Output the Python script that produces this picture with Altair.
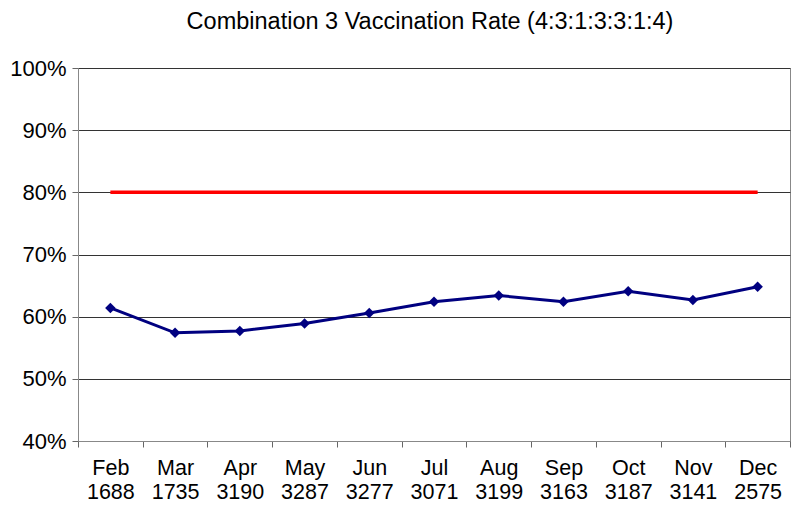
import altair as alt
import pandas as pd

months = ["Feb", "Mar", "Apr", "May", "Jun", "Jul", "Aug", "Sep", "Oct", "Nov", "Dec"]
counts = ["1688", "1735", "3190", "3287", "3277", "3071", "3199", "3163", "3187", "3141", "2575"]
rates = [61.4, 57.4, 57.7, 58.9, 60.6, 62.4, 63.4, 62.4, 64.1, 62.7, 64.8]
target = [80] * len(months)

cats = [f"{m}|{c}" for m, c in zip(months, counts)]
df = pd.DataFrame({"cat": cats, "rate": [r / 100 for r in rates], "target": [t / 100 for t in target]})

font = "Liberation Sans"

x = alt.X("cat:N", sort=cats, title=None,
          scale=alt.Scale(paddingInner=0, paddingOuter=0),
          axis=alt.Axis(labelExpr="isValid(datum.value) ? split(datum.value, '|') : ''", labelAngle=0,
                        labelFont=font, labelFontSize=21.5, labelColor="#000", labelLineHeight=24,
                        labelPadding=10, tickBand="extent", tickSize=6, tickColor="#666",
                        domainColor="#888", grid=False, labelBaseline="top"))
y_scale = alt.Scale(domain=[0.4, 1.0], nice=False)
y_axis = alt.Axis(format=".0%", values=[0.4, 0.5, 0.6, 0.7, 0.8, 0.9, 1.0], labelFont=font,
                  labelFontSize=22, labelColor="#000", labelPadding=6, tickSize=6,
                  tickColor="#666", domainColor="#888", gridColor="#333", gridWidth=1)

base = alt.Chart(df)
target_line = base.mark_line(color="#FF0000", strokeWidth=3.5).encode(
    x=x, y=alt.Y("target:Q", scale=y_scale, axis=y_axis, title=None))
rate_line = base.mark_line(color="#000080", strokeWidth=3,
                           point=alt.OverlayMarkDef(shape="diamond", size=110, color="#000080", filled=True)).encode(
    x=x, y=alt.Y("rate:Q", scale=y_scale, title=None))

chart = alt.layer(target_line, rate_line).properties(
    width=712, height=373,
    title=alt.TitleParams("Combination 3 Vaccination Rate (4:3:1:3:3:1:4)", font=font, fontSize=23.5,
                          fontWeight="normal", color="#000", offset=24, anchor="middle", dx=-4),
    autosize=alt.AutoSizeParams(type="none"),
    padding={"left": 70, "top": 60, "right": 2, "bottom": 70},
    background="white",
).configure_view(stroke="#888", strokeWidth=1)

chart.save("out.html", embed_options={"renderer": "svg", "actions": False})
